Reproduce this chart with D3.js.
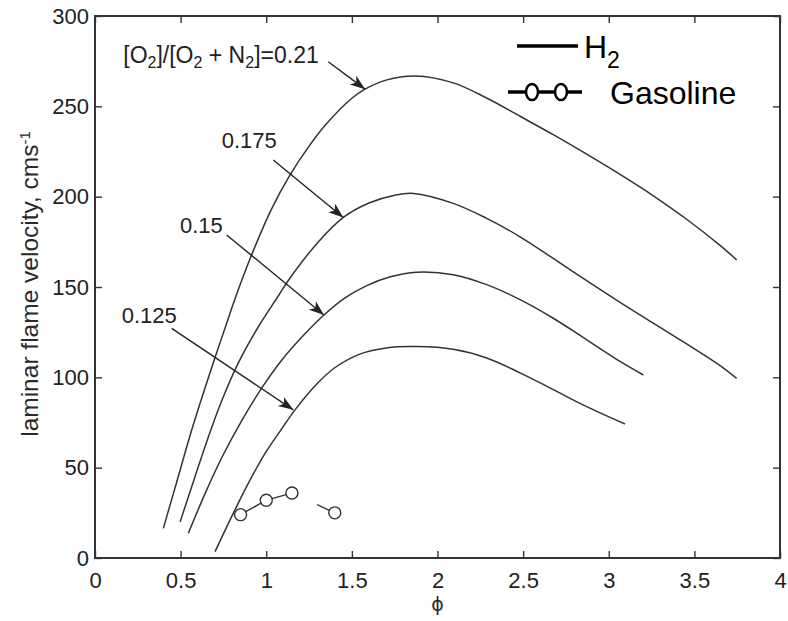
<!DOCTYPE html>
<html>
<head>
<meta charset="utf-8">
<script src="https://cdn.jsdelivr.net/npm/d3@7"></script>
<style>
  body { margin: 0; background: #fff; }
  svg { display: block; }
</style>
</head>
<body>
<svg id="chart" width="788" height="621"></svg>
<script>
// ---- data -------------------------------------------------------------
const phiTicks = [0, 0.5, 1, 1.5, 2, 2.5, 3, 3.5, 4];
const phiTickLabels = ["0", "0.5", "1", "1.5", "2", "2.5", "3", "3.5", "4"];
const velocityTicks = [0, 50, 100, 150, 200, 250, 300];
const velocityTickLabels = ["0", "50", "100", "150", "200", "250", "300"];

// H2 laminar flame velocity (cm/s) vs equivalence ratio, by O2 fraction
const h2Phi_021 = [0.399, 0.486, 0.565, 0.642, 0.701, 0.769, 0.827, 0.924, 1.03, 1.139, 1.25, 1.353, 1.5, 1.577, 1.7, 1.87, 2.092, 2.287, 2.482, 2.676, 2.871, 3.066, 3.26, 3.455, 3.65, 3.747];
const h2Vel_021 = [16.4, 45, 71, 94, 111, 130, 146, 170, 193, 212, 228, 240.5, 254.5, 259.5, 264.5, 266.8, 263, 254.6, 244.5, 234.3, 223.5, 212.3, 200.5, 187.5, 173, 165];

const h2Phi_0175 = [0.497, 0.584, 0.662, 0.74, 0.837, 0.954, 1.07, 1.139, 1.3, 1.45, 1.6, 1.75, 1.859, 2.092, 2.287, 2.482, 2.676, 2.871, 3.066, 3.26, 3.455, 3.65, 3.747];
const h2Vel_0175 = [20, 45, 67, 87, 108, 128, 145, 155, 174.5, 188.5, 196.5, 200.8, 201.8, 196.3, 188, 177.8, 165.8, 153.5, 141.5, 130, 118.5, 106.5, 99.4];

const h2Phi_015 = [0.545, 0.642, 0.74, 0.857, 0.973, 1.09, 1.2, 1.337, 1.46, 1.587, 1.72, 1.878, 2.092, 2.287, 2.482, 2.676, 2.871, 3.066, 3.202];
const h2Vel_015 = [13.7, 35.5, 55.5, 76, 94, 109.5, 121.5, 134.5, 144, 150.8, 155.5, 158.2, 156.8, 151.3, 143, 132.7, 120.8, 108.8, 101.3];

const h2Phi_0125 = [0.701, 0.798, 0.895, 0.993, 1.09, 1.168, 1.295, 1.4, 1.55, 1.7, 1.878, 2.092, 2.287, 2.482, 2.676, 2.871, 3.095];
const h2Vel_0125 = [3.5, 22.9, 41.3, 57.9, 71.5, 82, 96.3, 105.3, 113, 116.3, 117, 115.5, 110.7, 102.5, 93.2, 83.8, 74.2];

// gasoline reference points
const gasolinePhi = [0.85, 1.0, 1.15, 1.4];
const gasolineVel = [24, 32, 36, 25];

// curve annotations (label anchor and arrow, in data units)
const annotationText = ["=0.21", "0.175", "0.15", "0.125"];
const annotationLabelPhi = [0.165, 0.74, 0.496, 0.156];
const annotationLabelVel = [273.8, 226.9, 179.9, 130];
const arrowStartPhi = [1.362, 1.041, 0.769, 0.448];
const arrowStartVel = [274.7, 220.3, 178.8, 127.1];
const arrowEndPhi = [1.577, 1.45, 1.337, 1.158];
const arrowEndVel = [259.5, 188.5, 134.5, 82];

// ---- layout -----------------------------------------------------------
const W = 788, H = 621;
const margin = { top: 16, right: 8, bottom: 63, left: 95 };
const FONT = '"Liberation Sans", Arial, Helvetica, sans-serif';
const INK = "#2a2a2a";

const svg = d3.select("#chart");
const x = d3.scaleLinear().domain([0, 4]).range([margin.left, W - margin.right]);
const y = d3.scaleLinear().domain([0, 300]).range([H - margin.bottom, margin.top]);

// ---- axes (ticks point inward on all four sides) ---------------------
function styleAxis(g) {
  g.select(".domain").remove();
  g.selectAll(".tick line").attr("stroke", "#333").attr("stroke-width", 1.4);
  g.selectAll(".tick text")
    .attr("fill", "#222")
    .style("font-family", FONT)
    .style("font-size", "22px");
}

svg.append("g")
  .attr("transform", `translate(0,${y(0)})`)
  .call(d3.axisBottom(x).tickValues(phiTicks).tickFormat((d, i) => phiTickLabels[i])
    .tickSizeInner(-7).tickSizeOuter(0).tickPadding(14))
  .call(styleAxis);

svg.append("g")
  .attr("transform", `translate(0,${y(300)})`)
  .call(d3.axisTop(x).tickValues(phiTicks).tickFormat("")
    .tickSizeInner(-7).tickSizeOuter(0))
  .call(styleAxis);

svg.append("g")
  .attr("transform", `translate(${x(0)},0)`)
  .call(d3.axisLeft(y).tickValues(velocityTicks).tickFormat((d, i) => velocityTickLabels[i])
    .tickSizeInner(-7).tickSizeOuter(0).tickPadding(6))
  .call(styleAxis);

svg.append("g")
  .attr("transform", `translate(${x(4)},0)`)
  .call(d3.axisRight(y).tickValues(velocityTicks).tickFormat("")
    .tickSizeInner(-7).tickSizeOuter(0))
  .call(styleAxis);

// plot frame
svg.append("rect")
  .attr("x", x(0)).attr("y", y(300))
  .attr("width", x(4) - x(0)).attr("height", y(0) - y(300))
  .attr("fill", "none").attr("stroke", "#333").attr("stroke-width", 2);

// axis titles
svg.append("text")
  .attr("x", (x(0) + x(4)) / 2).attr("y", 611)
  .attr("text-anchor", "middle")
  .style("font-family", '"DejaVu Sans", ' + FONT).style("font-size", "19px")
  .attr("fill", INK)
  .text("\u03D5");

const yTitle = svg.append("text")
  .attr("transform", `translate(38,${(y(0) + y(300)) / 2 - 3}) rotate(-90)`)
  .attr("text-anchor", "middle")
  .style("font-family", FONT).style("font-size", "24.5px")
  .attr("fill", INK);
yTitle.append("tspan").text("laminar flame velocity, cms");
yTitle.append("tspan").attr("dy", "-0.55em").style("font-size", "15px").text("-1");

// ---- H2 curves --------------------------------------------------------
const h2Series = [
  [h2Phi_021, h2Vel_021],
  [h2Phi_0175, h2Vel_0175],
  [h2Phi_015, h2Vel_015],
  [h2Phi_0125, h2Vel_0125]
];
const line = d3.line()
  .x(d => x(d[0])).y(d => y(d[1]))
  .curve(d3.curveCatmullRom.alpha(0.5));

svg.append("g").selectAll("path")
  .data(h2Series.map(([p, v]) => p.map((d, i) => [d, v[i]])))
  .join("path")
  .attr("d", line)
  .attr("fill", "none")
  .attr("stroke", "#333")
  .attr("stroke-width", 1.5);

// ---- gasoline markers -------------------------------------------------
const gasR = 6;
const gasPts = gasolinePhi.map((p, i) => [x(p), y(gasolineVel[i])]);
const segs = [];
for (let i = 0; i < gasPts.length - 1; i++) {
  const [x0, y0] = gasPts[i], [x1, y1] = gasPts[i + 1];
  const len = Math.hypot(x1 - x0, y1 - y0);
  const ux = (x1 - x0) / len, uy = (y1 - y0) / len;
  // the last link is only drawn over its final stretch
  const startOff = i === gasPts.length - 2 ? len * 0.59 : gasR;
  segs.push([x0 + ux * startOff, y0 + uy * startOff, x1 - ux * gasR, y1 - uy * gasR]);
}
svg.append("g").selectAll("line").data(segs).join("line")
  .attr("x1", d => d[0]).attr("y1", d => d[1])
  .attr("x2", d => d[2]).attr("y2", d => d[3])
  .attr("stroke", "#333").attr("stroke-width", 1.4);
svg.append("g").selectAll("circle").data(gasPts).join("circle")
  .attr("cx", d => d[0]).attr("cy", d => d[1]).attr("r", gasR)
  .attr("fill", "none").attr("stroke", "#333").attr("stroke-width", 1.4);

// ---- annotations ------------------------------------------------------
svg.append("defs").append("marker")
  .attr("id", "head")
  .attr("viewBox", "-16 -7 18 14")
  .attr("refX", 0).attr("refY", 0)
  .attr("markerWidth", 18).attr("markerHeight", 14)
  .attr("markerUnits", "userSpaceOnUse")
  .attr("orient", "auto")
  .append("path")
  .attr("d", "M0,0 L-15,-5.5 L-11,0 L-15,5.5 Z")
  .attr("fill", "#222");

svg.append("g").selectAll("line")
  .data(arrowStartPhi.map((p, i) => i))
  .join("line")
  .attr("x1", i => x(arrowStartPhi[i])).attr("y1", i => y(arrowStartVel[i]))
  .attr("x2", i => x(arrowEndPhi[i])).attr("y2", i => y(arrowEndVel[i]))
  .attr("stroke", "#222").attr("stroke-width", 1.4)
  .attr("marker-end", "url(#head)");

const labels = svg.append("g")
  .style("font-family", FONT).style("font-size", "22px")
  .attr("fill", "#222");
annotationText.forEach((t, i) => {
  const txt = labels.append("text")
    .attr("x", x(annotationLabelPhi[i])).attr("y", y(annotationLabelVel[i]));
  if (i === 0) {
    txt.style("font-size", "23px");
    const parts = ["[O", "2", "]/[O", "2", " + N", "2", "]" + t];
    parts.forEach((s, k) => {
      const ts = txt.append("tspan").text(s);
      if (k % 2 === 1) ts.attr("dy", 5).style("font-size", "16px");
      else if (k > 0) ts.attr("dy", -5);
    });
  } else {
    txt.text(t);
  }
});

// ---- legend -----------------------------------------------------------
const legend = svg.append("g").style("font-family", FONT).attr("fill", "#000");
legend.append("line")
  .attr("x1", 517).attr("x2", 578).attr("y1", 46).attr("y2", 46)
  .attr("stroke", "#000").attr("stroke-width", 3.5);
const h2Label = legend.append("text").attr("x", 584).attr("y", 58).style("font-size", "32px");
h2Label.append("tspan").text("H");
h2Label.append("tspan").attr("dy", 10).style("font-size", "23px").text("2");

legend.append("line")
  .attr("x1", 508).attr("x2", 582).attr("y1", 92).attr("y2", 92)
  .attr("stroke", "#000").attr("stroke-width", 3.5);
legend.selectAll("ellipse").data([532, 561]).join("ellipse")
  .attr("cx", d => d).attr("cy", 92).attr("rx", 6).attr("ry", 8)
  .attr("fill", "#fff").attr("stroke", "#000").attr("stroke-width", 2.5);
legend.append("text").attr("x", 610).attr("y", 104).style("font-size", "32px").text("Gasoline");
</script>
</body>
</html>
